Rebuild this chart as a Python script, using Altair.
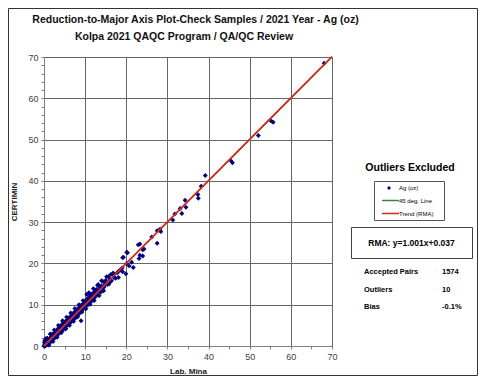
import altair as alt
import pandas as pd

# ---------------- data ----------------
lab_mina = [0.1, 0.2, 0.3, 0.1, 0.4, 0.5, 0.2, 0.6, 0.7, 0.8, 0.9, 1.0, 1.1, 1.2, 1.3, 1.4, 1.5, 1.6, 1.7, 1.8,
            1.9, 2.0, 2.1, 2.2, 2.3, 2.4, 2.5, 2.6, 2.7, 2.8, 2.9, 3.0, 3.1, 3.2, 3.3, 3.4, 3.5, 3.6, 3.7, 3.8,
            3.9, 4.0, 4.1, 4.2, 4.3, 4.5, 4.6, 4.7, 4.8, 5.0, 5.1, 5.2, 5.4, 5.5, 5.6, 5.8, 5.9, 6.0, 6.2, 6.3,
            6.4, 6.6, 6.7, 6.8, 7.0, 7.1, 7.2, 7.4, 7.5, 7.6, 7.8, 7.9, 8.0, 8.2, 8.3, 8.4, 8.6, 8.7, 8.8, 9.0,
            9.1, 9.2, 9.4, 9.5, 9.6, 9.8, 9.9, 10.0, 10.2, 10.3, 10.4, 10.5, 10.7, 10.8, 10.9, 11.0, 11.2, 11.4, 11.5, 11.7,
            11.9, 12.0, 12.2, 12.4, 12.4, 12.6, 12.8, 13.0, 13.2, 13.3, 13.6, 13.8, 14.0, 14.4, 14.6, 14.8, 15.0, 15.2, 15.4, 15.6,
            16.0, 16.4, 16.8, 16.8, 17.0, 17.8, 18.1, 18.5, 19.0, 19.1, 19.1, 19.3, 19.9, 20.1, 20.1, 20.3, 20.7, 21.3, 21.7, 22.9,
            23.1, 23.3, 23.3, 24.0, 24.0, 24.3, 26.2, 27.5, 27.5, 28.2, 28.4, 31.3, 31.8, 33.1, 33.5, 34.3, 34.5, 37.4, 37.5, 38.2,
            39.2, 45.4, 45.8, 52.1, 55.2, 55.7, 68.1, 9.0, 0.3, 0.6, 1.0, 1.4, 0.8, 2.0, 2.6, 3.4, 4.4, 5.3, 6.5, 7.7,
            0.5, 1.5, 2.5, 3.5, 4.5, 5.5, 6.5, 7.5, 8.5, 9.5, 11.0, 12.0, 13.0, 14.0,
            1.2, 2.2, 3.2, 4.2, 5.2, 6.2, 7.2, 8.2, 9.2, 10.2, 11.2, 12.2, 13.4, 14.5,
            0.0, 0.2, 0.5, 1.0, 2.0, 3.0, 4.0, 5.0, 6.0, 7.0, 8.0, 9.0, 10.0, 11.0, 12.0, 13.0, 14.0, 15.0,
            16.0, 17.0, 18.0, 15.8, 17.4, 16.2]
certimin = [0.2, 0.5, 0.1, 0.9, 0.3, 0.8, 1.4, 0.2, 0.6, 1.1, 0.4, 0.9, 1.6, 0.7, 1.2, 1.9, 1.0, 1.5, 2.2, 1.3,
            2.0, 1.6, 2.6, 1.8, 2.3, 3.0, 2.1, 2.7, 3.3, 2.4, 3.0, 3.7, 2.6, 3.4, 4.0, 3.0, 3.6, 4.4, 3.3, 4.0,
            4.7, 3.5, 4.3, 5.0, 3.9, 4.6, 5.5, 4.2, 5.0, 5.8, 4.5, 5.3, 6.1, 4.9, 5.7, 6.5, 5.2, 6.1, 6.9, 5.6,
            6.4, 7.3, 6.0, 6.9, 7.8, 6.5, 7.3, 8.2, 6.9, 7.7, 8.6, 7.2, 8.1, 9.0, 7.6, 8.5, 9.4, 8.0, 8.9, 9.8,
            8.4, 9.3, 10.1, 8.9, 9.7, 10.6, 9.3, 10.2, 11.1, 9.7, 12.5, 10.6, 11.6, 10.1, 12.9, 11.0, 12.1, 10.7, 11.6, 12.6,
            11.2, 12.6, 13.1, 11.8, 13.6, 12.5, 13.7, 12.4, 14.9, 13.2, 14.1, 13.0, 14.6, 15.6, 14.3, 14.8, 15.9, 16.8, 14.9, 16.8,
            15.5, 15.8, 17.2, 17.7, 16.6, 17.7, 16.6, 18.4, 18.9, 18.0, 21.4, 21.5, 17.5, 20.0, 22.7, 22.6, 19.4, 20.3, 19.0, 24.5,
            21.2, 22.0, 24.7, 21.8, 23.3, 23.5, 26.4, 24.9, 27.9, 28.3, 27.7, 30.5, 32.0, 33.3, 32.1, 35.3, 33.6, 36.7, 35.8, 38.7,
            41.3, 44.9, 44.4, 51.0, 54.5, 54.2, 68.5, 6.1, 1.3, 1.5, 0.3, 0.8, 1.9, 2.9, 1.9, 2.8, 3.6, 4.2, 5.8, 6.8,
            1.8, 2.9, 3.9, 5.0, 6.1, 7.0, 8.0, 9.1, 10.0, 11.0, 12.8, 13.9, 14.7, 15.8,
            0.2, 1.1, 2.1, 3.2, 4.1, 5.0, 6.0, 7.1, 8.2, 9.0, 10.1, 11.0, 12.2, 13.4,
            0.0, 0.0, 0.5, 1.2, 2.2, 3.1, 4.1, 5.1, 6.0, 7.1, 8.0, 9.1, 9.9, 11.3, 12.0, 13.1, 14.0, 15.2,
            16.2, 17.3, 18.0, 15.0, 16.4, 17.3]

series_name = "Ag (oz)"
rma_slope = 1.001
rma_intercept = 0.037
axis_max = 70
x_ticks = list(range(0, 71, 5))
y_ticks = list(range(0, 71, 2))

title_lines = ["Reduction-to-Major Axis Plot-Check Samples / 2021 Year - Ag (oz)",
               "Kolpa 2021 QAQC Program / QA/QC Review"]
x_title = "Lab. Mina"
y_title = "CERTIMIN"
panel_title = "Outliers Excluded"
legend_labels = ["Ag (oz)", "45 deg. Line", "Trend (RMA)"]
rma_text = "RMA: y=1.001x+0.037"
stats_labels = ["Accepted Pairs", "Outliers", "Bias"]
stats_values = ["1574", "10", "-0.1%"]

# ---------------- chart ----------------
FONT = "Liberation Sans"
NAVY = "#000080"
GREEN = "#2e8b3e"
RED = "#e3241b"

pts = pd.DataFrame({"x": lab_mina, "y": certimin, "s": series_name})
line_df = pd.DataFrame({"x": [0, axis_max]})

xscale = alt.Scale(domain=[0, axis_max], nice=False, zero=False)
yscale = alt.Scale(domain=[0, axis_max], nice=False, zero=False)

major10 = "datum.value % 10 === 0"


def make_axis(values, title, title_pad):
    return alt.Axis(values=values, tickCount=500, format="d", title=title, grid=True,
                    gridColor="#666666", gridWidth=1,
                    gridOpacity={"condition": {"test": major10, "value": 1}, "value": 0},
                    labelExpr="datum.value % 10 === 0 ? datum.label : ''",
                    labelOverlap=False, labelFlush=False,
                    tickSize=3, tickColor="#808080", domainColor="#808080",
                    labelFont=FONT, labelFontSize=9, labelColor="#404040", labelPadding=3,
                    titleFont=FONT, titleFontSize=8, titleFontWeight="bold", titleColor="#202020",
                    titlePadding=title_pad)


points = alt.Chart(pts).mark_point(shape="diamond", filled=True, size=24, opacity=1, color=NAVY).encode(
    x=alt.X("x:Q", scale=xscale, axis=make_axis(x_ticks, x_title, 6)),
    y=alt.Y("y:Q", scale=yscale, axis=make_axis(y_ticks, y_title, 9)),
)

line45 = alt.Chart(line_df).transform_calculate(y="datum.x").mark_line(color=GREEN, strokeWidth=1.5).encode(
    x=alt.X("x:Q", scale=xscale), y=alt.Y("y:Q", scale=yscale))
rma = alt.Chart(line_df).transform_calculate(
    y=f"{rma_slope} * datum.x + {rma_intercept}").mark_line(color=RED, strokeWidth=1.6).encode(
    x=alt.X("x:Q", scale=xscale), y=alt.Y("y:Q", scale=yscale))

one = pd.DataFrame({"a": [0]})


def txt(s, x, y, size=8, bold=True, align="left", color="#000000"):
    return alt.Chart(one).mark_text(text=s, font=FONT, fontSize=size,
                                    fontWeight="bold" if bold else "normal",
                                    align=align, baseline="middle", color=color).encode(
        x=alt.value(x), y=alt.value(y))


def box(x1, x2, y1, y2, color="#404040", width=1):
    return alt.Chart(one).mark_rect(fill="transparent", stroke=color, strokeWidth=width).encode(
        x=alt.value(x1), x2=alt.value(x2), y=alt.value(y1), y2=alt.value(y2))


def seg(x1, x2, y, color, width=1.5):
    return alt.Chart(one).mark_rule(color=color, strokeWidth=width).encode(
        x=alt.value(x1), x2=alt.value(x2), y=alt.value(y))


layers = [points, line45, rma,
          box(-35.5, 433.5, -48.5, 318.5, color="#333333"),
          txt(title_lines[0], 151.5, -37, size=10.5, align="center", color="#111111"),
          txt(title_lines[1], 140, -20, size=10.5, align="center", color="#111111"),
          txt(panel_title, 366, 111, size=10.5, align="center"),
          box(330.5, 400.5, 124.5, 163.5, color="#555555"),
          alt.Chart(one).mark_point(shape="diamond", filled=True, size=16, color=NAVY, opacity=1).encode(
              x=alt.value(345), y=alt.value(131)),
          txt(legend_labels[0], 355, 131, size=6, bold=False),
          seg(338, 355, 143.5, GREEN),
          txt(legend_labels[1], 355, 143.5, size=6, bold=False),
          seg(338, 355, 156.5, RED),
          txt(legend_labels[2], 355, 156.5, size=6, bold=False),
          box(307.5, 428.5, 170.5, 201.5, color="#404040"),
          txt(rma_text, 367.5, 186, size=8.5, align="center"),
          ]
for i, (lab, val) in enumerate(zip(stats_labels, stats_values)):
    yy = 215 + i * 17.5
    layers.append(txt(lab, 320, yy, size=7.5))
    layers.append(txt(val, 398, yy, size=7.5))

chart = alt.layer(*layers).properties(
    width=288, height=289,
    padding={"left": 36, "top": 49, "right": 146, "bottom": 30},
    autosize=alt.AutoSizeParams(type="none"),
).configure_view(stroke="#808080", strokeWidth=1).configure(background="white")

chart.save("out.html", embed_options={"renderer": "svg", "actions": False})
